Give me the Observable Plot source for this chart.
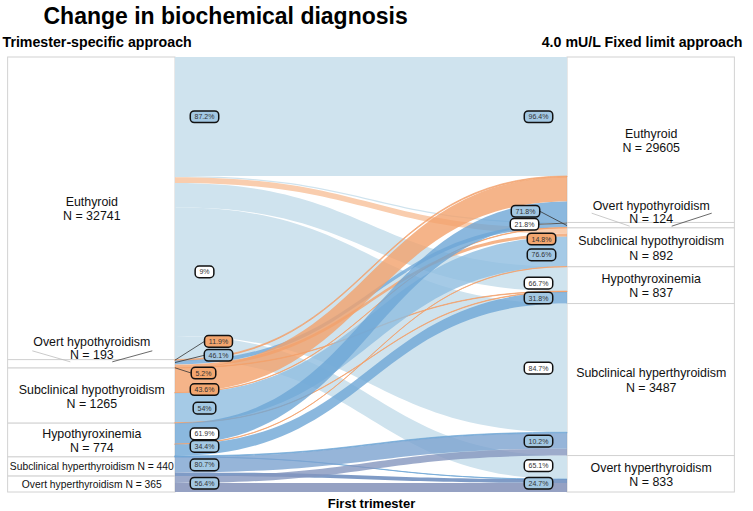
<!DOCTYPE html>
<html>
<head>
<meta charset="utf-8">
<script src="https://cdn.jsdelivr.net/npm/d3@7"></script>
<script src="https://cdn.jsdelivr.net/npm/@observablehq/plot@0.6"></script>
<style>
  html, body { margin: 0; padding: 0; background: #fff; }
  #chart svg { display: block; }
</style>
</head>
<body>
<div id="chart"></div>
<script>
// ---------------- data ----------------
const categories = ["Euthyroid", "Overt hypothyroidism", "Subclinical hypothyroidism",
                    "Hypothyroxinemia", "Subclinical hyperthyroidism", "Overt hyperthyroidism"];
const leftN  = [32741, 193, 1265, 774, 440, 365];   // trimester-specific approach
const rightN = [29605, 124, 892, 837, 3487, 833];   // 4.0 mU/L fixed limit approach

// flows (source index -> target index, count)
const flowSource = [0,0,0,0,0,0, 1,1,1,1, 2,2,2,2, 3,3,3,3,3, 4,4, 5,5];
const flowTarget = [0,1,2,3,4,5, 0,1,2,3, 0,1,2,3, 0,2,3,4,5, 4,5, 4,5];
const flowValue  = [28539,27,132,558,2953,542, 23,89,71,10, 564,8,683,10, 479,6,266,20,3, 355,85, 159,206];
const leftLabel  = ["87.2%",null,null,null,"9%",null, "11.9%","46.1%",null,"5.2%",
                    "43.6%",null,"54%",null, "61.9%",null,"34.4%",null,null, "80.7%",null, null,"56.4%"];
const rightLabel = ["96.4%","21.8%","14.8%","66.7%","84.7%","65.1%", null,"71.8%",null,null,
                    null,null,"76.6%",null, null,null,"31.8%",null,null, "10.2%",null, null,"24.7%"];

const titleText  = "Change in biochemical diagnosis";
const leftTitle  = "Trimester-specific approach";
const rightTitle = "4.0 mU/L Fixed limit approach";
const bottomTitle = "First trimester";

// ---------------- layout & styles ----------------
const FONT = "'Liberation Sans', Arial, Helvetica, sans-serif";
const EE_DISPLAY = 2730;      // the huge Euthyroid->Euthyroid band is drawn truncated (broken scale)
const SIDE = 0.427;           // width of the label columns, in units of the flow panel width
const catColor = ["#cfe3ee", "#72a9d8", "#8fbde0", "#6ea6d6", "#7ca2cf", "#7a8ab4"];
function flowColor(f) {
  if (f.s === f.t) return catColor[f.s];
  if (f.s === 0) return f.t === 2 ? "#f9cdae" : "#cfe3ee";
  if (f.s === 1 || f.s === 2 || f.t === 2) return "#f2a16b";
  if (f.s === 3) return "#6ea6d6";
  if (f.s === 4) return "#5f82b8";
  return "#8596be";
}
function tone(f) {
  if (f.s === f.t) return "blue";
  if (f.s === 1 || f.s === 2 || f.t === 2) return "orange";
  return "white";
}
const toneFill = {blue: "#a3c8e3", orange: "#f3a66f", white: "#ffffff"};
// label nudges [dx, dy, leader]
const nudgeLeft  = {6: [43, -19, true], 7: [43, -7.5, true], 9: [28, 5, true], 10: [29, 9], 16: [29, -4], 22: [29, -4.5]};
const nudgeRight = {1: [-43, 1, true], 7: [-42, -14.6, true], 2: [-26, 8], 12: [-26, 3], 3: [-29, 4], 5: [-29, -2], 22: [-29, -4.5]};

// ---------------- stacking ----------------
const nCat = categories.length;
const flows = flowValue.map((v, i) => ({i, s: flowSource[i], t: flowTarget[i], v,
  h: (flowSource[i] === 0 && flowTarget[i] === 0) ? EE_DISPLAY : v, ll: leftLabel[i], rl: rightLabel[i]}));
let acc = 0;
const leftNodes = [];
for (let c = 0; c < nCat; c++) {
  const start = acc;
  flows.filter(f => f.s === c).sort((a, b) => a.t - b.t).forEach(f => { f.l0 = acc; acc += f.h; f.l1 = acc; });
  leftNodes.push({c, y1: start, y2: acc, mid: (start + acc) / 2});
}
const totalDisplay = acc;
acc = 0;
const rightNodes = [];
for (let c = 0; c < nCat; c++) {
  const start = acc;
  flows.filter(f => f.t === c).sort((a, b) => a.s - b.s).forEach(f => { f.r0 = acc; acc += f.h; f.r1 = acc; });
  rightNodes.push({c, y1: start, y2: acc, mid: (start + acc) / 2});
}
const ribbons = flows.flatMap(f => [
  {flow: f.i, src: f.s, x: 0, y1: f.l0, y2: f.l1, color: flowColor(f), thin: f.v < 40},
  {flow: f.i, src: f.s, x: 1, y1: f.r0, y2: f.r1, color: flowColor(f), thin: f.v < 40}
]);

const pctLabels = [];
flows.forEach(f => {
  if (f.ll) { const n = nudgeLeft[f.i] || [29, 0]; pctLabels.push({text: f.ll, side: 0, y: (f.l0 + f.l1) / 2, tone: tone(f), dx: n[0], dy: n[1], leader: !!n[2]}); }
  if (f.rl) { const n = nudgeRight[f.i] || [-29, 0]; pctLabels.push({text: f.rl, side: 1, y: (f.r0 + f.r1) / 2, tone: tone(f), dx: n[0], dy: n[1], leader: !!n[2]}); }
});

const leftText = leftNodes.map(n => ({...n, label: n.c >= 4 ? `${categories[n.c]} N = ${leftN[n.c]}` : `${categories[n.c]}\nN = ${leftN[n.c]}`}));
const rightText = rightNodes.map(n => ({...n, label: `${categories[n.c]}\nN = ${rightN[n.c]}`}));

// ---------------- marks ----------------
const NODE_FS = 12.4;
const marks = [
  Plot.rect(leftNodes, {x1: -SIDE, x2: 0, y1: "y1", y2: "y2", fill: "white", stroke: "#d2d2d2"}),
  Plot.rect(rightNodes, {x1: 1, x2: 1 + SIDE, y1: "y1", y2: "y2", fill: "white", stroke: "#d2d2d2"}),
  Plot.area(ribbons.filter(d => d.src === 0), {x1: "x", y1: "y1", y2: "y2", z: "flow", fill: "color", curve: "bump-x"}),
  Plot.area(ribbons.filter(d => d.src > 0), {x1: "x", y1: "y1", y2: "y2", z: "flow", fill: "color", fillOpacity: 0.8,
    stroke: d => d.thin ? d.color : "none", strokeWidth: 0.7, curve: "bump-x"}),
  // node labels
  Plot.text(leftText.filter(d => d.c !== 1 && d.c < 4), {x: -SIDE / 2, y: "mid", text: "label", fontSize: NODE_FS, lineHeight: 1.15, fill: "#111"}),
  Plot.text(leftText.filter(d => d.c >= 4), {x: -SIDE / 2, y: "mid", text: "label", fontSize: 10.3, fill: "#111"}),
  Plot.text(leftText.filter(d => d.c === 1), {x: -SIDE / 2, y: "mid", text: "label", fontSize: NODE_FS, lineHeight: 1.1, dy: -16, fill: "#111"}),
  Plot.text(rightText.filter(d => d.c !== 1), {x: 1 + SIDE / 2, y: "mid", text: "label", fontSize: NODE_FS, lineHeight: 1.15, fill: "#111"}),
  Plot.text(rightText.filter(d => d.c === 1), {x: 1 + SIDE / 2, y: "mid", text: "label", fontSize: NODE_FS, lineHeight: 1.1, dy: -13.5, fill: "#111"}),
  // percentage labels
  ...pctLabels.map((lab, k) => Plot.text([lab], {x: lab.side, y: "y", text: "text", dx: lab.dx, dy: lab.dy,
    fontSize: 7, fill: "#333", ariaDescription: `pct-${k}`})),
  // headers
  Plot.text([titleText], {text: d => d, frameAnchor: "top-left", textAnchor: "start", lineAnchor: "middle", dx: 35, dy: -41,
    fontSize: 23, fontWeight: "bold", fill: "#000"}),
  Plot.text([leftTitle], {text: d => d, frameAnchor: "top-left", textAnchor: "start", lineAnchor: "middle", dx: -6, dy: -15,
    fontSize: 14.2, fontWeight: "bold", fill: "#000"}),
  Plot.text([rightTitle], {text: d => d, frameAnchor: "top-right", textAnchor: "end", lineAnchor: "middle", dx: 7, dy: -15,
    fontSize: 14.2, fontWeight: "bold", fill: "#000"}),
  Plot.text([bottomTitle], {text: d => d, x: 0.5, frameAnchor: "bottom", lineAnchor: "middle", dy: 11,
    fontSize: 13, fontWeight: "bold", fill: "#000"})
];

const svg = Plot.plot({
  width: 753, height: 511,
  marginTop: 57, marginBottom: 19, marginLeft: 8, marginRight: 18,
  style: {fontFamily: FONT, background: "#fff", overflow: "visible"},
  x: {domain: [0, 1], range: [175, 567], axis: null},
  y: {domain: [0, totalDisplay], range: [57, 492], axis: null},
  color: {type: "identity"},
  marks
});
document.getElementById("chart").append(svg);

// ---------------- label boxes & leader lines ----------------
const NS = "http://www.w3.org/2000/svg";
const X = svg.scale("x"), Y = svg.scale("y");
const sr = svg.getBoundingClientRect();
const pctGroups = pctLabels.map((lab, k) => svg.querySelector(`g[aria-description="pct-${k}"]`));
const leaders = document.createElementNS(NS, "g");
if (pctGroups[0]) svg.insertBefore(leaders, pctGroups[0]); else svg.append(leaders);
const L = d3.select(leaders).attr("fill", "none");

pctLabels.forEach((lab, k) => {
  const g = pctGroups[k];
  if (!g) return;
  const t = g.querySelector("text");
  if (!t) return;
  const b = t.getBBox();
  const r = document.createElementNS(NS, "rect");
  r.setAttribute("x", b.x - 4.3);
  r.setAttribute("y", b.y - 2.3);
  r.setAttribute("width", b.width + 8.6);
  r.setAttribute("height", b.height + 4.6);
  r.setAttribute("rx", 4);
  r.setAttribute("fill", toneFill[lab.tone]);
  r.setAttribute("stroke", "#111");
  r.setAttribute("stroke-width", 1.5);
  const tr = t.getAttribute("transform");
  if (tr) r.setAttribute("transform", tr);
  t.parentNode.insertBefore(r, t);
  if (lab.leader) {
    const bb = r.getBoundingClientRect();
    const px = X.apply(lab.side), py = Y.apply(lab.y);
    const bx = lab.side === 0 ? bb.left - sr.left : bb.right - sr.left;
    const by = bb.top - sr.top + bb.height / 2;
    L.append("line").attr("x1", px).attr("y1", py).attr("x2", bx).attr("y2", by)
      .attr("stroke", "#333").attr("stroke-width", 0.8);
  }
});

// leader lines for the tiny "Overt hypothyroidism" nodes
function nodeLeaders(side, node, up, down) {
  const cx = X.apply(side === 0 ? -SIDE / 2 : 1 + SIDE / 2), cy = Y.apply(node.mid);
  L.append("line").attr("x1", cx - 59).attr("y1", cy + up).attr("x2", cx - 21).attr("y2", cy + down)
    .attr("stroke", "#bdbdbd").attr("stroke-width", 0.8);
  L.append("line").attr("x1", cx + 21).attr("y1", cy + down).attr("x2", cx + 61).attr("y2", cy + up)
    .attr("stroke", "#444").attr("stroke-width", 0.8);
}
nodeLeaders(0, leftNodes[1], -13, -2);
nodeLeaders(1, rightNodes[1], -12, 1);
</script>
</body>
</html>
